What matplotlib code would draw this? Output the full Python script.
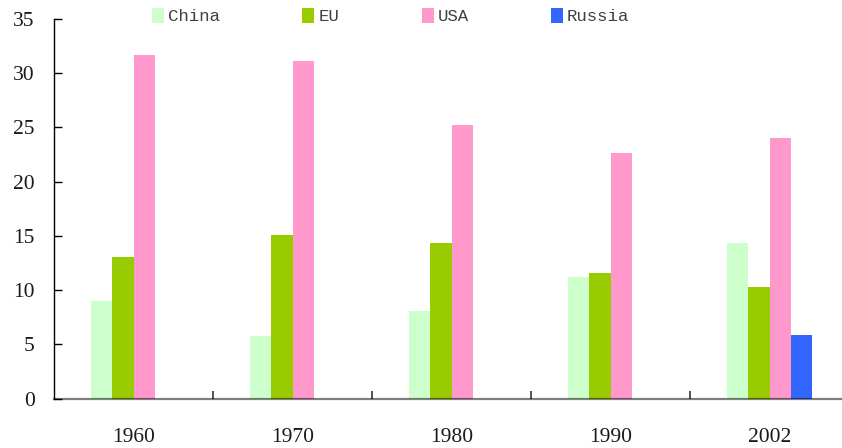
import numpy as np
import matplotlib
matplotlib.use("Agg")
import matplotlib.pyplot as plt

years = ["1960", "1970", "1980", "1990", "2002"]
china = [9.0, 5.8, 8.1, 11.2, 14.35]
eu = [13.05, 15.1, 14.35, 11.6, 10.3]
usa = [31.65, 31.1, 25.2, 22.65, 24.0]
russia = [0, 0, 0, 0, 5.9]
series_names = ["China", "EU", "USA", "Russia"]
colors = ["#CCFFCC", "#99CC00", "#FF99CC", "#3366FF"]
yticks = [0, 5, 10, 15, 20, 25, 30, 35]

W, H = 842, 448
fig = plt.figure(figsize=(W / 100, H / 100), dpi=100)
ax = fig.add_axes([54 / W, 1 - 398.7 / H, (849 - 54) / W, (398.7 - 19) / H])

x = np.arange(len(years))
bw = 21 / 158.6
data = [china, eu, usa, russia]
handles = []
for i, (vals, c, name) in enumerate(zip(data, colors, series_names)):
    b = ax.bar(x + (i - 1.5) * bw, vals, width=bw, color=c, linewidth=0, label=name, zorder=1)
    handles.append(b)

ax.set_xlim(-0.5, len(years) - 0.5)
ax.set_ylim(0, 35)
ax.set_yticks(yticks)
ax.set_yticklabels([str(t) for t in yticks], fontfamily="Liberation Serif", fontsize=15.5, color="#1a1a1a")
ax.tick_params(axis="y", direction="in", length=6, width=1, color="black", pad=14)

ax.set_xticks(x)
ax.set_xticklabels(years, fontfamily="Liberation Serif", fontsize=15.5, color="#1a1a1a")
ax.tick_params(axis="x", which="major", length=0, pad=21)
ax.set_xticks(np.arange(0.5, len(years) - 0.5, 1.0), minor=True)
ax.tick_params(axis="x", which="minor", direction="in", length=6, width=1.2, color="#333333")

for s in ["top", "right"]:
    ax.spines[s].set_visible(False)
ax.spines["left"].set_color("black")
ax.spines["left"].set_linewidth(1.0)
ax.spines["bottom"].set_color((0, 0, 0, 0.5))
ax.spines["bottom"].set_linewidth(1.6)
ax.spines["bottom"].set_zorder(3)

leg = fig.legend(handles=handles, labels=series_names, loc="upper left",
                 bbox_to_anchor=(152 / W, 1 - 8 / H), ncol=4, frameon=False,
                 prop={"family": "Liberation Mono", "size": 12.5},
                 handlelength=0.7, handleheight=0.95, handletextpad=0.22,
                 columnspacing=4.75, borderpad=0, borderaxespad=0)
for t in leg.get_texts():
    t.set_color("#404040")

fig.savefig("out.png", dpi=100)
